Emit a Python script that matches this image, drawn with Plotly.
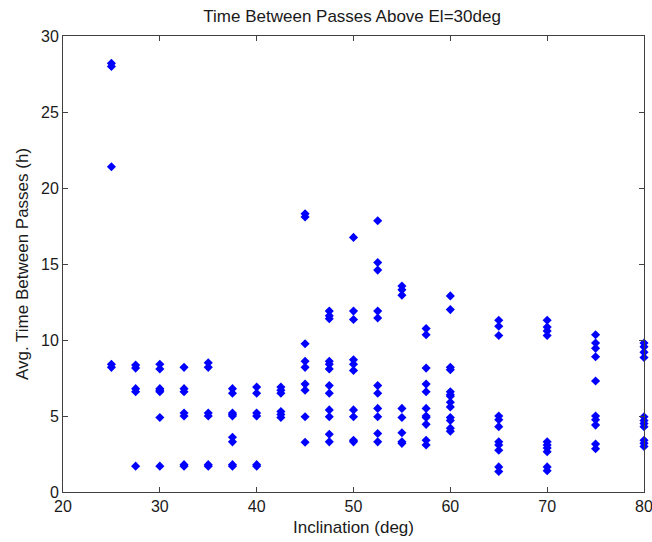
import plotly.graph_objects as go

# Inclination values (deg) and the avg. time between passes (h) observed at each
inclination = [25, 27.5, 30, 32.5, 35, 37.5, 40, 42.5, 45, 47.5, 50, 52.5, 55, 57.5, 60, 65, 70, 75, 80]
hours = [
    [28.2, 28.0, 21.4, 8.4, 8.2],
    [8.35, 8.15, 6.8, 6.6, 1.7],
    [8.4, 8.1, 6.8, 6.7, 6.6, 4.9, 1.7],
    [8.2, 6.8, 6.6, 5.2, 5.0, 1.8, 1.7],
    [8.5, 8.2, 5.2, 5.0, 1.8, 1.7],
    [6.8, 6.5, 5.2, 5.1, 5.0, 3.6, 3.3, 1.8, 1.7],
    [6.9, 6.5, 5.2, 5.0, 1.8, 1.7],
    [6.9, 6.7, 6.5, 5.3, 5.1, 4.9],
    [18.3, 18.1, 9.75, 8.6, 8.2, 7.1, 6.7, 4.95, 3.27],
    [11.9, 11.6, 11.4, 8.6, 8.4, 8.1, 7.0, 6.5, 5.4, 4.95, 3.8, 3.3],
    [16.75, 11.9, 11.35, 8.7, 8.4, 8.0, 5.4, 4.95, 3.4, 3.3],
    [17.85, 15.1, 14.6, 11.9, 11.45, 7.0, 6.5, 5.5, 4.95, 3.85, 3.3],
    [13.55, 13.3, 12.95, 5.5, 4.9, 3.9, 3.3, 3.2],
    [10.75, 10.35, 8.15, 7.1, 6.6, 5.5, 5.0, 4.9, 4.45, 3.4, 3.1],
    [12.9, 12.0, 8.2, 8.05, 6.6, 6.4, 6.3, 5.9, 5.6, 4.9, 4.7, 4.2, 4.0],
    [11.3, 10.9, 10.3, 5.0, 4.75, 4.3, 3.3, 3.1, 2.75, 1.65, 1.35],
    [11.3, 10.85, 10.6, 10.3, 3.3, 3.1, 2.9, 2.65, 1.65, 1.4],
    [10.35, 9.8, 9.45, 8.9, 7.3, 5.0, 4.75, 4.4, 3.15, 2.85],
    [9.8, 9.55, 9.2, 8.85, 4.95, 4.7, 4.5, 4.3, 3.4, 3.2, 3.0],
]
x_ticks = [20, 30, 40, 50, 60, 70, 80]
y_ticks = [0, 5, 10, 15, 20, 25, 30]

xs, ys = [], []
for inc, hs in zip(inclination, hours):
    for h in hs:
        xs.append(inc)
        ys.append(h)

font_family = "Liberation Sans, Arial, sans-serif"
text_color = "#1a1a1a"

fig = go.Figure()
fig.add_trace(go.Scatter(
    x=xs, y=ys, mode="markers",
    marker=dict(symbol="diamond", size=7, color="#0000ff", line=dict(width=0)),
    cliponaxis=False, showlegend=False,
))

axis_common = dict(
    showgrid=False, zeroline=False, showline=True, linecolor="#404040", linewidth=1,
    mirror="ticks", ticks="inside", ticklen=5, tickcolor="#404040", automargin=False,
    tickfont=dict(family=font_family, size=16, color=text_color),
)
fig.update_xaxes(range=[20, 80], tickvals=x_ticks, ticklabeloverflow="allow",
                 title=dict(text="Inclination (deg)", standoff=6,
                            font=dict(family=font_family, size=17, color=text_color)), **axis_common)
fig.update_yaxes(range=[0, 30], tickvals=y_ticks,
                 title=dict(text="Avg. Time Between Passes (h)", standoff=8,
                            font=dict(family=font_family, size=17, color=text_color)), **axis_common)

fig.update_layout(
    width=652, height=542,
    margin=dict(l=63, r=8, t=36, b=50),
    paper_bgcolor="white", plot_bgcolor="white",
    title=dict(text="Time Between Passes Above El=30deg", x=0.54, xanchor="center", y=0.970, yanchor="middle",
               font=dict(family=font_family, size=17, color=text_color)),
)

fig.write_html("out.html")
